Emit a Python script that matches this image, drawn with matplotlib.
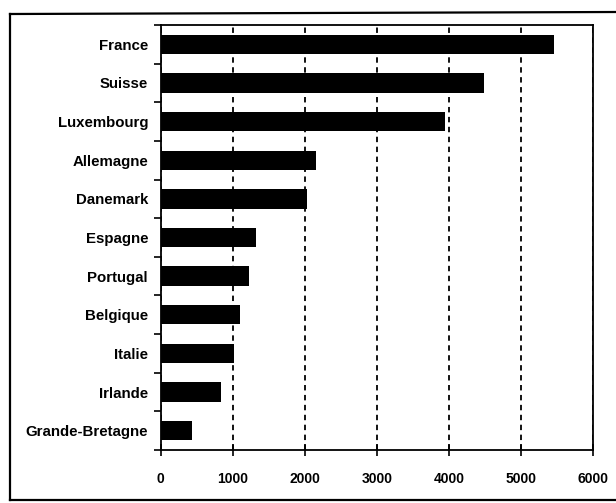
import matplotlib
matplotlib.use("Agg")
import matplotlib.pyplot as plt
from matplotlib.lines import Line2D
import numpy as np

countries = ["France", "Suisse", "Luxembourg", "Allemagne", "Danemark",
             "Espagne", "Portugal", "Belgique", "Italie", "Irlande",
             "Grande-Bretagne"]
values = [5450, 4480, 3950, 2160, 2030, 1330, 1230, 1100, 1020, 845, 430]
x_ticks = [0, 1000, 2000, 3000, 4000, 5000, 6000]

plt.rcParams["font.family"] = ["Liberation Sans", "DejaVu Sans"]

fig = plt.figure(figsize=(6.16, 5.03), dpi=100)
ax = fig.add_axes([0.2606, 0.1054, 0.7025, 0.8449])

y = np.arange(len(countries))
ax.barh(y, values, height=0.5, color="black", zorder=3)

ax.set_xlim(0, 6000)
ax.set_ylim(len(countries) - 0.5, -0.5)

ax.set_xticks(x_ticks)
ax.set_xticklabels([str(v) for v in x_ticks], fontsize=10, fontweight="bold")
ax.set_yticks(y)
ax.set_yticklabels(countries, fontsize=10.8, fontweight="bold")
ax.set_yticks(np.arange(len(countries) + 1) - 0.5, minor=True)

ax.tick_params(axis="y", which="major", length=0, pad=9)
ax.tick_params(axis="y", which="minor", length=5, width=1.2, direction="out")
ax.tick_params(axis="x", which="major", length=8, width=1.2,
               direction="inout", pad=12)

ax.grid(axis="x", color="black", linestyle=(0, (3, 2.5)), linewidth=1.3,
        zorder=1)
for s in ax.spines.values():
    s.set_linewidth(1.3)
    s.set_color("black")

# outer border around the chart
for (x0, y0, x1, y1) in [(10, 14, 616, 12), (10, 14, 10, 500),
                         (10, 500, 616, 500)]:
    fig.add_artist(Line2D([x0 / 616, x1 / 616], [1 - y0 / 503, 1 - y1 / 503],
                          color="black", linewidth=1.6,
                          transform=fig.transFigure))

fig.savefig("out.png", dpi=100)
